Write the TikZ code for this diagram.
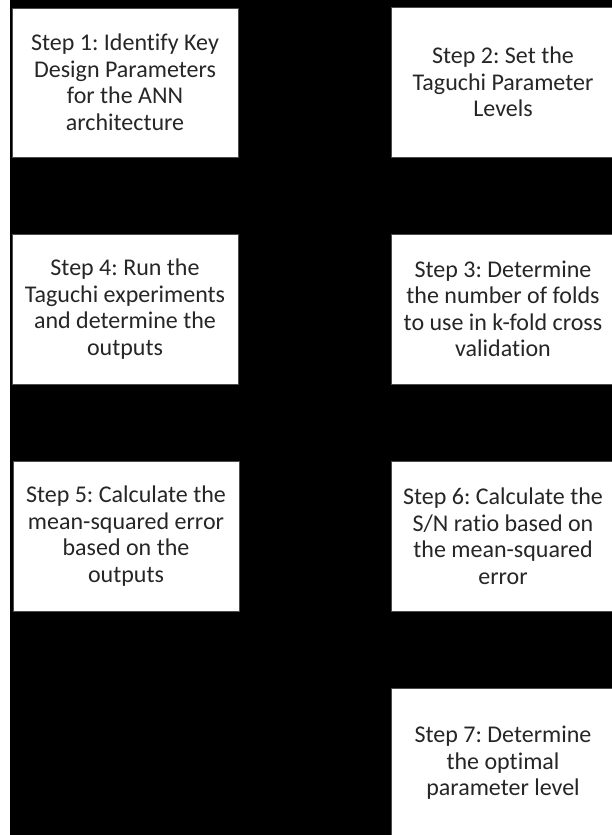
\documentclass[tikz,border=0pt]{standalone}
\usepackage{fontspec}
\setmainfont{Carlito}[Ligatures={NoCommon}]
\frenchspacing
\begin{document}
\begin{tikzpicture}[x=1pt,y=-1pt,
  stepbox/.style={draw=black!70, line width=0.8pt, fill=white, align=center,
    inner sep=0pt, font=\fontsize{24}{26.5}\selectfont, text=black!85}]
  % page: thin white strip on the left, black field elsewhere
  \useasboundingbox (0,0) rectangle (612,835);
  \clip (0,0) rectangle (612,835);
  \fill[white] (0,0) rectangle (612,835);
  \fill[black] (10,0) rectangle (612,835);
  % left column
  \node[stepbox, minimum width=226pt, minimum height=149pt] (s1) at (125,82.5)
    {Step 1: Identify Key\\Design Parameters\\for the ANN\\architecture};
  \node[stepbox, minimum width=226pt, minimum height=150pt] (s4) at (125,309)
    {Step 4: Run the\\Taguchi experiments\\and determine the\\outputs};
  \node[stepbox, minimum width=226pt, minimum height=150pt] (s5) at (126,536)
    {Step 5: Calculate the\\mean-squared error\\based on the\\outputs};
  % right column (runs off the right edge)
  \node[stepbox, minimum width=224pt, minimum height=150pt] (s2) at (503,82)
    {Step 2: Set the\\Taguchi Parameter\\Levels};
  \node[stepbox, minimum width=224pt, minimum height=150pt] (s3) at (503,309)
    {Step 3: Determine\\the number of folds\\to use in k-fold cross\\validation};
  \node[stepbox, minimum width=224pt, minimum height=150pt] (s6) at (503,536)
    {Step 6: Calculate the\\S/N ratio based on\\the mean-squared\\error};
  \node[stepbox, minimum width=224pt, minimum height=150pt] (s7) at (503,763)
    {Step 7: Determine\\the optimal\\parameter level};
\end{tikzpicture}
\end{document}
